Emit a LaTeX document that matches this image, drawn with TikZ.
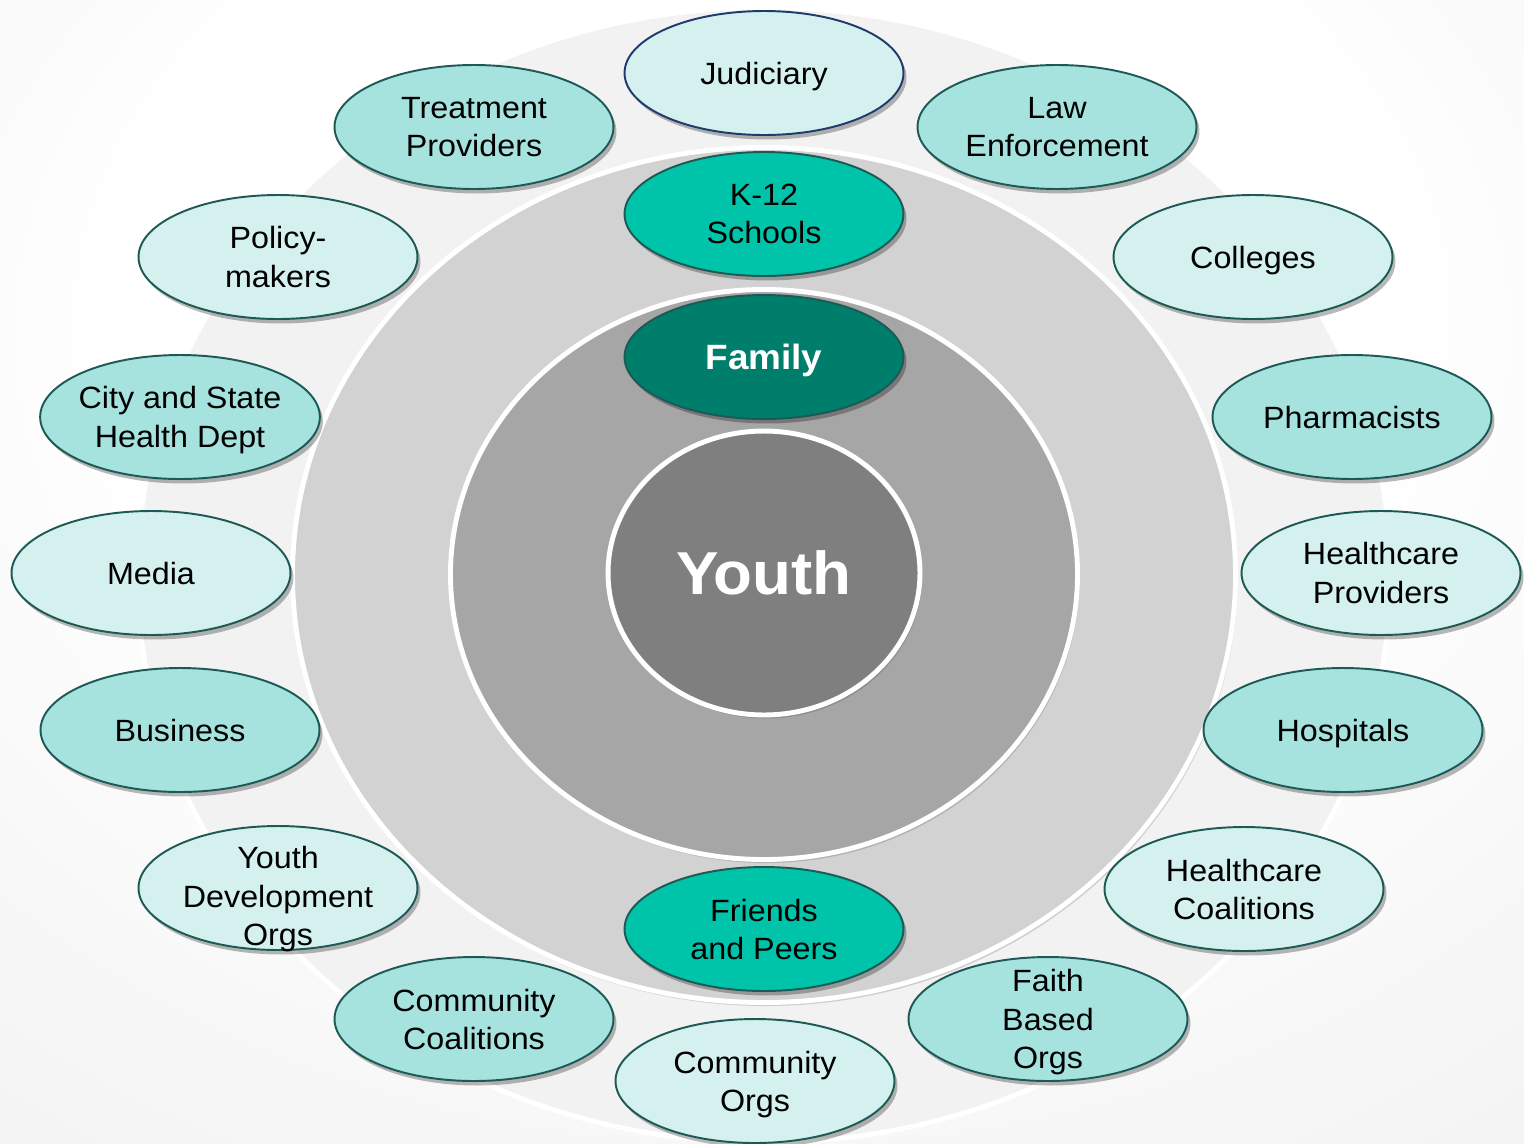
\documentclass[tikz,border=0pt]{standalone}
\usepackage{fontspec}
\setmainfont[FakeStretch=1.05]{Liberation Sans}
\usetikzlibrary{shapes.geometric,shadows}
\definecolor{bgmid}{HTML}{E9E9E9}
\definecolor{bgedge}{HTML}{D8D8D8}
\definecolor{ringouter}{HTML}{F2F2F2}
\definecolor{ringmid}{HTML}{D2D2D2}
\definecolor{ringinner}{HTML}{A6A6A6}
\definecolor{corefill}{HTML}{7F7F7F}
\definecolor{mintfill}{HTML}{A7E3DE}
\definecolor{palefill}{HTML}{D4F1EF}
\definecolor{schoolfill}{HTML}{00C4A9}
\definecolor{familyfill}{HTML}{007E6C}
\definecolor{edgeteal}{HTML}{1D5955}
\definecolor{edgenavy}{HTML}{1F3A6B}
\pgfdeclareradialshading{backdrop}{\pgfpoint{0bp}{15bp}}{color(0bp)=(white); color(20bp)=(white); color(60bp)=(bgmid); color(80bp)=(bgedge)}
\tikzset{
  softshadow/.style={drop shadow={shadow xshift=.06cm, shadow yshift=-.09cm, opacity=.28, fill=black}},
  ringshadow/.style={drop shadow={shadow xshift=.04cm, shadow yshift=-.07cm, opacity=.15, fill=black}},
  agency/.style={ellipse, draw=edgeteal, line width=1.1pt, minimum width=5.58cm,
    minimum height=2.48cm, inner xsep=-0.05cm, inner ysep=-0.2cm, text depth=0pt,
    align=center, softshadow, font=\fontsize{17.5pt}{21.8pt}\selectfont},
  mint/.style={agency, fill=mintfill},
  pale/.style={agency, fill=palefill},
  ring/.style={draw=white, line width=2.8pt}
}
\begin{document}
\begin{tikzpicture}[x=0.02cm, y=-0.02cm]
    \useasboundingbox (0,0) rectangle (1524,1143);
    \shade[shading=backdrop] (0,0) rectangle (1524,1143);
    \draw[ring, fill=ringouter] (764,575) ellipse [x radius=626.5, y radius=567.5];
    \draw[ring, fill=ringmid, ringshadow] (764,575) ellipse [x radius=471.5, y radius=427.5];
    \draw[ring, fill=ringinner, ringshadow] (764,574.5) ellipse [x radius=313.5, y radius=285];
    \node[ellipse, ring, fill=corefill, ringshadow, minimum width=6.24cm, minimum height=5.68cm,
      inner sep=0pt, text depth=0pt, text=white, font=\fontsize{34.5pt}{40pt}\selectfont\bfseries] (youth) at (764,573) {Youth};
    \node[pale, draw=edgenavy] (judiciary) at (764,73) {Judiciary};
    \node[mint] (treatment) at (474,127) {Treatment\\Providers};
    \node[mint] (law) at (1057,127) {Law\\Enforcement};
    \node[pale] (policy) at (278,257) {Policy-\\makers};
    \node[pale] (colleges) at (1253,257) {Colleges};
    \node[mint] (citystate) at (180,417) {City and State\\Health Dept};
    \node[mint] (pharmacists) at (1352,417) {Pharmacists};
    \node[pale] (media) at (151,573) {Media};
    \node[pale] (hcproviders) at (1381,573) {Healthcare\\Providers};
    \node[mint] (business) at (180,730) {Business};
    \node[mint] (hospitals) at (1343,730) {Hospitals};
    \node[pale, text height=2.3cm, inner ysep=-0.4cm] (youthdev) at (278,888) {Youth\\Development\\Orgs};
    \node[pale] (hccoalitions) at (1244,889) {Healthcare\\Coalitions};
    \node[mint] (commcoalitions) at (474,1019) {Community\\Coalitions};
    \node[mint] (faith) at (1048,1019) {Faith\\Based\\Orgs};
    \node[pale] (commorgs) at (755,1081) {Community\\Orgs};
    \node[agency, fill=schoolfill] (schools) at (764,214) {K-12\\Schools};
    \node[agency, fill=familyfill, text=white, font=\fontsize{20pt}{24pt}\selectfont\bfseries] (family) at (764,357) {Family};
    \node[agency, fill=schoolfill] (friends) at (764,929) {Friends\\and Peers};
\end{tikzpicture}
\end{document}
